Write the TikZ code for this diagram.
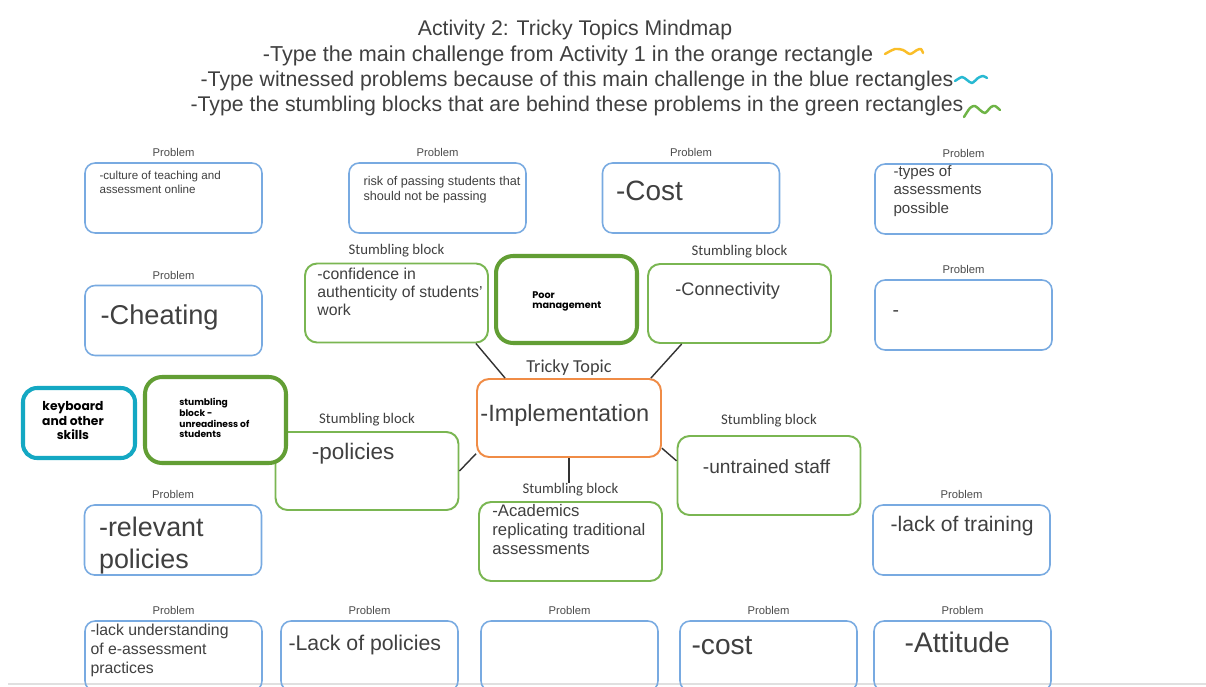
\documentclass[tikz,border=0pt]{standalone}
\usepackage{fontspec}
\setmainfont{Liberation Sans}
\newfontfamily\calibfont{Carlito}
\newfontfamily\heavyfont{Poppins}
\usetikzlibrary{positioning}

\definecolor{inkgray}{RGB}{64,64,64}
\definecolor{taggray}{RGB}{75,75,75}
\definecolor{probblue}{RGB}{120,170,225}
\definecolor{blockgreen}{RGB}{122,182,82}
\definecolor{deepgreen}{RGB}{98,158,52}
\definecolor{topicorange}{RGB}{240,140,70}
\definecolor{skillteal}{RGB}{20,168,195}
\definecolor{squigorange}{RGB}{250,190,40}
\definecolor{squigcyan}{RGB}{40,185,210}
\definecolor{squiggreen}{RGB}{110,180,70}

\tikzset{
  probbox/.style={draw=probblue, line width=0.9pt, rounded corners=0.2cm,
    minimum width=3.54cm, minimum height=1.4cm, inner sep=0pt},
  blockbox/.style={draw=blockgreen, line width=1.1pt, rounded corners=0.24cm,
    fill=white, minimum width=3.66cm, minimum height=1.58cm, inner sep=0pt},
  thickbox/.style={line width=2.3pt, rounded corners=0.34cm, fill=white, inner sep=0pt},
  probtag/.style={font=\fontsize{6.4}{7}\selectfont, text=taggray, inner sep=0pt},
  blocktag/.style={font=\calibfont\fontsize{8.4}{10}\selectfont, text=inkgray, inner sep=0pt},
  % multi-line texts sit on the baseline of their last line
  boxtext/.style={anchor=base west, align=left, inner sep=0pt, text=inkgray},
  titleline/.style={anchor=base, inner sep=0pt, text=inkgray, font=\fontsize{12.1}{14}\selectfont},
  link/.style={draw=black!80, line width=0.8pt},
  squig/.style={line width=1.4pt, line cap=round, line join=round},
}

\begin{document}
\begin{tikzpicture}[x=0.02cm, y=-0.02cm]
\path[use as bounding box, fill=white] (0,0) rectangle (1206,686);
\draw[black!12, line width=0.6pt] (8,684) -- (1206,684);

% heading
\node[titleline] (head) at (575,36) {Activity 2: Tricky Topics Mindmap};
\node[titleline, font=\fontsize{12.3}{14}\selectfont] (line2) at (568,62) {-Type the main challenge from Activity 1 in the orange rectangle};
\node[titleline] (line3) at (577,87) {-Type witnessed problems because of this main challenge in the blue rectangles};
\node[titleline] (line4) at (577,112) {-Type the stumbling blocks that are behind these problems in the green rectangles};
\draw[squig, squigorange] plot[smooth] coordinates {(885,54) (895,49) (903,50) (910,54) (917,50) (921,49) (923,53)};
\draw[squig, squigcyan] plot[smooth] coordinates {(955,81) (962,77) (967,80) (972,83) (978,78) (983,76) (987,78)};
\draw[squig, squiggreen] plot[smooth] coordinates {(964,117) (970,108) (975,106) (980,110) (985,113) (991,107) (995,106) (1000,110)};

% problem boxes
\node[probbox] (p1) at (173.5,198) {};
\node[probbox] (p2) at (437.5,198) {};
\node[probbox] (p3) at (691,198) {};
\node[probbox] (p4) at (963.5,199) {};
\node[probbox] (p5) at (173.5,320.5) {};
\node[probbox] (p6) at (963.5,315) {};
\node[probbox] (p7) at (173,540) {};
\node[probbox] (p8) at (961.5,540) {};
\node[probbox] (p9) at (173.5,656) {};
\node[probbox] (p10) at (369.5,656) {};
\node[probbox] (p11) at (569.5,656) {};
\node[probbox] (p12) at (768.5,656) {};
\node[probbox] (p13) at (962.5,656) {};
\foreach \p in {p1,p2,p3,p4,p5,p6,p7,p8,p9,p10,p11,p12,p13}
  \node[probtag, above=0.1cm of \p] (\p tag) {Problem};

\node[boxtext, font=\fontsize{6.6}{7.9}\selectfont] (p1txt) at ([shift={(15,31)}]p1.north west)
  {-culture of teaching and\\assessment online};
\node[boxtext, font=\fontsize{7.2}{8.5}\selectfont] (p2txt) at ([shift={(15,38)}]p2.north west)
  {risk of passing students that\\should not be passing};
\node[boxtext, font=\fontsize{15.9}{18}\selectfont] (p3txt) at ([shift={(14,38)}]p3.north west) {-Cost};
\node[boxtext, font=\fontsize{8.6}{10.5}\selectfont] (p4txt) at ([shift={(19,50)}]p4.north west)
  {-types of\\assessments\\possible};
\node[boxtext, font=\fontsize{15.5}{18}\selectfont] (p5txt) at ([shift={(16,40)}]p5.north west) {-Cheating};
\node[boxtext, font=\fontsize{11}{13}\selectfont] (p6txt) at ([shift={(18,37)}]p6.north west) {-};
\node[boxtext, font=\fontsize{15.3}{18.2}\selectfont] (p7txt) at ([shift={(15,64)}]p7.north west)
  {-relevant\\policies};
\node[boxtext, font=\fontsize{12}{14}\selectfont] (p8txt) at ([shift={(18,27)}]p8.north west) {-lack of training};
\node[boxtext, font=\fontsize{9}{10.8}\selectfont] (p9txt) at ([shift={(6,53)}]p9.north west)
  {-lack understanding\\of e-assessment\\practices};
\node[boxtext, font=\fontsize{12.1}{14}\selectfont] (p10txt) at ([shift={(8,30)}]p10.north west) {-Lack of policies};
\node[boxtext, font=\fontsize{16}{18}\selectfont] (p12txt) at ([shift={(12,34)}]p12.north west) {-cost};
\node[boxtext, font=\fontsize{16.1}{18}\selectfont] (p13txt) at ([shift={(31,32)}]p13.north west) {-Attitude};

% stumbling blocks
\node[blockbox] (s1) at (396.5,303) {};
\node[blockbox] (s2) at (739.5,303.5) {};
\node[blockbox, minimum height=1.56cm] (s3) at (367,471) {};
\node[blockbox] (s4) at (570.5,541.5) {};
\node[blockbox] (s5) at (769,475.5) {};
\node[blocktag, above=0.1cm of s1] (s1tag) {Stumbling block};
\node[blocktag, above=0.1cm of s2] (s2tag) {Stumbling block};
\node[blocktag, above=0.1cm of s3] (s3tag) {Stumbling block};
\node[blocktag, above=0.1cm of s4] (s4tag) {Stumbling block};
\node[blocktag, above=0.16cm of s5] (s5tag) {Stumbling block};

\node[thickbox, draw=deepgreen, minimum width=2.82cm, minimum height=1.74cm] (poor) at (566.5,299.5) {};
\node[thickbox, draw=deepgreen, minimum width=2.82cm, minimum height=1.72cm] (unready) at (215.5,420) {};
\node[thickbox, draw=skillteal, rounded corners=0.28cm, minimum width=2.24cm, minimum height=1.4cm] (skills) at (79,423) {};

\node[boxtext, font=\fontsize{9}{10.2}\selectfont] (s1txt) at ([shift={(13,53)}]s1.north west)
  {-confidence in\\authenticity of students'\\work};
\node[boxtext, font=\fontsize{10.3}{12}\selectfont] (s2txt) at ([shift={(28,32)}]s2.north west) {-Connectivity};
\node[boxtext, font=\fontsize{12.8}{15}\selectfont] (s3txt) at ([shift={(37,28)}]s3.north west) {-policies};
\node[boxtext, font=\fontsize{9.5}{10.8}\selectfont] (s4txt) at ([shift={(14,53)}]s4.north west)
  {-Academics\\replicating traditional\\assessments};
\node[boxtext, font=\fontsize{10.9}{13}\selectfont] (s5txt) at ([shift={(26,38)}]s5.north west) {-untrained staff};
\node[boxtext, text=black, font=\heavyfont\bfseries\fontsize{5.5}{5.9}\selectfont] (poortxt)
  at ([shift={(38,55)}]poor.north west) {Poor\\management};
\node[boxtext, text=black, font=\heavyfont\bfseries\fontsize{5.2}{6.2}\selectfont] (unreadytxt)
  at ([shift={(36,63)}]unready.north west) {stumbling\\block -\\unreadiness of\\students};
\node[anchor=base, align=center, inner sep=0pt, font=\heavyfont\bfseries\fontsize{7}{8.5}\selectfont] (skillstxt)
  at ([shift={(52,54)}]skills.north west) {keyboard\\and other\\skills};

% tricky topic
\node[draw=topicorange, line width=1.1pt, rounded corners=0.24cm, fill=white,
  minimum width=3.68cm, minimum height=1.56cm, inner sep=0pt] (topic) at (569,418) {};
\node[blocktag, font=\calibfont\fontsize{10.4}{12}\selectfont, above=0.05cm of topic] (topictag) {Tricky Topic};
\node[boxtext, font=\fontsize{13.4}{16}\selectfont] (topictxt) at ([shift={(4,43)}]topic.north west) {-Implementation};

\draw[link] (s1.-27.6) -- (topic.148.8);
\draw[link] (s2.-145.5) -- (topic.26.6);
\draw[link] (topic.201.6) -- (s3.east);
\draw[link] (topic.south) -- (topic.south |- s4tag.north);
\draw[link] (topic.-18.6) -- (s5.171);
\end{tikzpicture}
\end{document}
